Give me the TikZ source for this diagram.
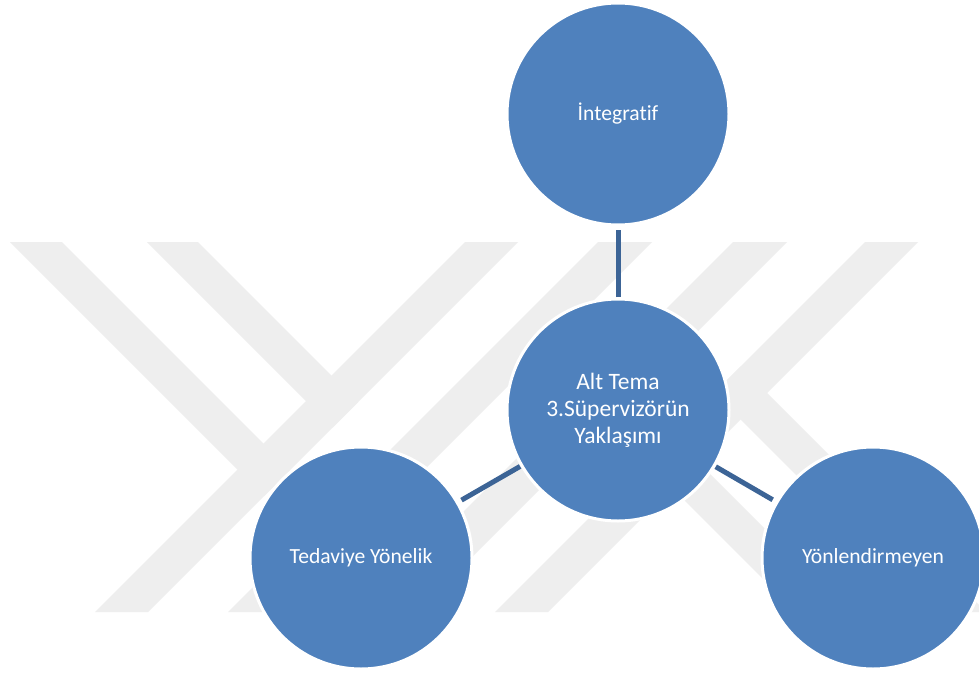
\documentclass[tikz,border=0pt]{standalone}
\usepackage{fontspec}
\setmainfont{Carlito}[Ligatures=NoCommon]
\definecolor{bubblefill}{RGB}{79,129,189}
\definecolor{linkcolor}{RGB}{60,100,150}
\definecolor{markgray}{RGB}{238,238,238}
\begin{document}
\begin{tikzpicture}[x=1pt,y=-1pt,
  bubble/.style={circle, fill=bubblefill, draw=white, line width=3pt,
    minimum size=222pt, inner sep=0pt, outer sep=0pt, text=white,
    align=center, font=\fontsize{21.6}{27}\selectfont},
  hub/.style={bubble, font=\fontsize{23.5}{27}\selectfont},
  link/.style={draw=linkcolor, line width=5pt, shorten <=2pt, shorten >=5pt},
  stripe/.style={fill=markgray}]
\useasboundingbox (0,0) rectangle (979,675);
\clip (0,0) rectangle (979,675);
\fill[white] (0,0) rectangle (979,675);

% light grey logo stripes in the background
\fill[stripe] (10,242) -- (62,242) -- (290,470) -- (264,496) -- cycle;
\fill[stripe] (147,242) -- (198,242) -- (358,402) -- (332.5,427.5) -- cycle;
\fill[stripe] (465,242) -- (518,242) -- (148,612) -- (95,612) -- cycle;
\fill[stripe] (598,242) -- (652,242) -- (282,612) -- (228,612) -- cycle;
\fill[stripe] (733,242) -- (787,242) -- (417,612) -- (363,612) -- cycle;
\fill[stripe] (579.5,395.5) -- (605.5,369.5) -- (848,612) -- (796,612) -- cycle;
\fill[stripe] (865,242) -- (918,242) -- (548,612) -- (495,612) -- cycle;
\fill[stripe] (714,393) -- (740.5,366.5) -- (986,612) -- (933,612) -- cycle;

% circles
\node[bubble] (top)   at (618,114) {İntegratif};
\node[hub]    (mid)   at (618,410) {Alt Tema\\3.Süpervizörün\\Yaklaşımı};
\node[bubble] (left)  at (361,558) {Tedaviye Yönelik};
\node[bubble] (right) at (873,558) {Yönlendirmeyen};

% connectors
\draw[link] (mid) -- (top);
\draw[link] (mid) -- (left);
\draw[link] (mid) -- (right);
\end{tikzpicture}
\end{document}
